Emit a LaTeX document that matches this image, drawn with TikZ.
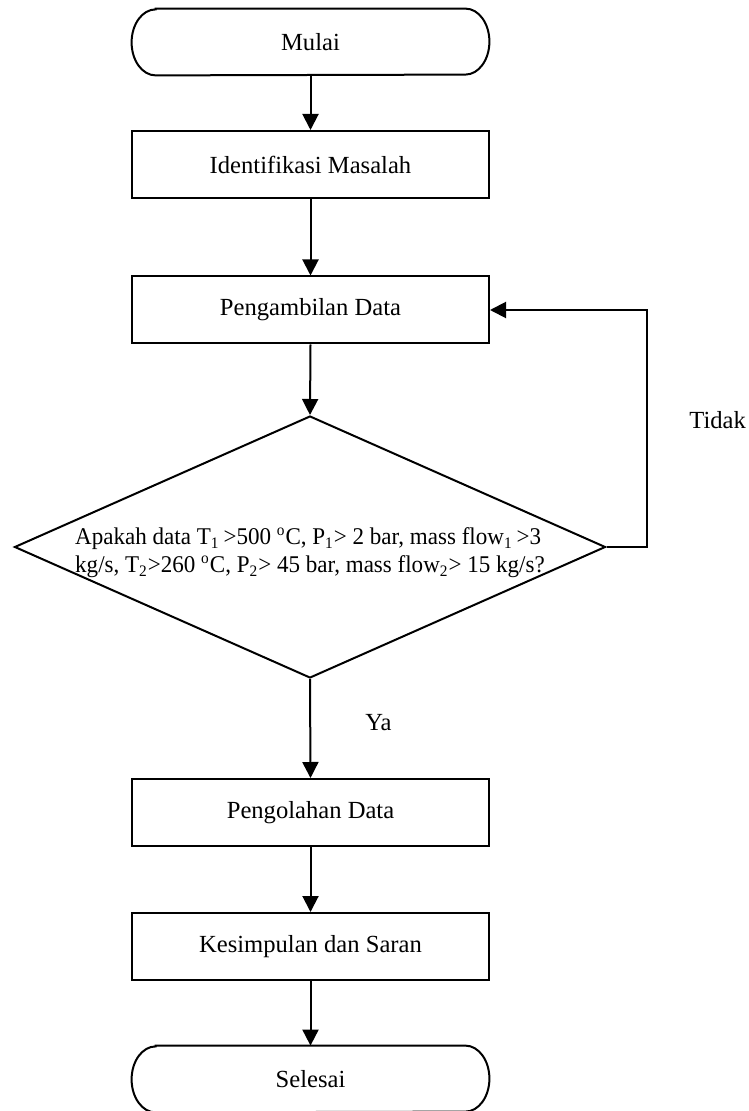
\documentclass[tikz,border=0pt]{standalone}
\usepackage{fontspec}
\setmainfont{Liberation Serif}
\newfontfamily\condfont[FakeStretch=0.96]{Liberation Serif}
\usetikzlibrary{shapes.geometric,arrows.meta,calc}
\tikzset{
  txt/.style={font=\fontsize{12.3}{14}\selectfont},
  box/.style={draw, line width=1pt, rectangle, minimum width=178.5pt, minimum height=33.5pt, inner sep=0pt, txt},
  term/.style={rectangle, minimum width=178.5pt, minimum height=33pt, inner sep=0pt, txt},
  termline/.style={line width=1pt},
  decision/.style={draw, line width=1pt, diamond, aspect=2.26, minimum width=295.5pt, minimum height=131pt, inner sep=-3pt, align=left, font=\condfont\fontsize{12}{14}\selectfont},
  lbl/.style={txt, inner sep=0pt},
  arr/.style={line width=1pt, -{Triangle[length=8pt,width=8pt]}}
}
\begin{document}
\begin{tikzpicture}[x=0.5pt,y=-0.5pt]
\useasboundingbox (0,0) rectangle (748,1111);
\node[term] (mulai) at (310.5,42) {Mulai};
\draw[termline] ($(mulai.north west)+(24,0)$) -- ($(mulai.north east)+(-24,0)$)
  arc[start angle=90, end angle=-90, x radius=12pt, y radius=16.5pt]
  -- ($(mulai.south west)+(24,0)$)
  arc[start angle=270, end angle=90, x radius=12pt, y radius=16.5pt] -- cycle;
\node[box] (ident) at (310.5,164.5) {Identifikasi Masalah};
\node[box] (ambil) at (310.5,310) {Pengambilan Data};
\node[decision] (dec) at (310,547) {\rule{0pt}{14pt}Apakah data T\textsubscript{1}\,>500 \textsuperscript{o}C, P\textsubscript{1}> 2 bar, mass flow\textsubscript{1}\,>3\\kg/s, T\textsubscript{2}>260 \textsuperscript{o}C, P\textsubscript{2}> 45 bar, mass flow\textsubscript{2}> 15 kg/s?};
\node[box] (olah) at (310.5,812.5) {Pengolahan Data};
\node[box] (kesim) at (310.5,946.5) {Kesimpulan dan Saran};
\node[term] (selesai) at (310.5,1079) {Selesai};
\draw[termline] ($(selesai.north west)+(24,0)$) -- ($(selesai.north east)+(-24,0)$)
  arc[start angle=90, end angle=-90, x radius=12pt, y radius=16.5pt]
  -- ($(selesai.south west)+(24,0)$)
  arc[start angle=270, end angle=90, x radius=12pt, y radius=16.5pt] -- cycle;
\node[lbl, anchor=west] (tidak) at (689,420) {Tidak};
\node[lbl, anchor=west] (ya) at (365,723) {Ya};
\coordinate (loop) at (647,310);
\draw[arr] (mulai.south) -- (ident.north);
\draw[arr] (ident.south) -- (ambil.north);
\draw[arr] (ambil.south) -- (dec.north);
\draw[arr] (dec.south) -- (olah.north);
\draw[arr] (olah.south) -- (kesim.north);
\draw[arr] (kesim.south) -- (selesai.north);
\draw[arr] (dec.east) -| (loop) -- (ambil.east);
\end{tikzpicture}
\end{document}
